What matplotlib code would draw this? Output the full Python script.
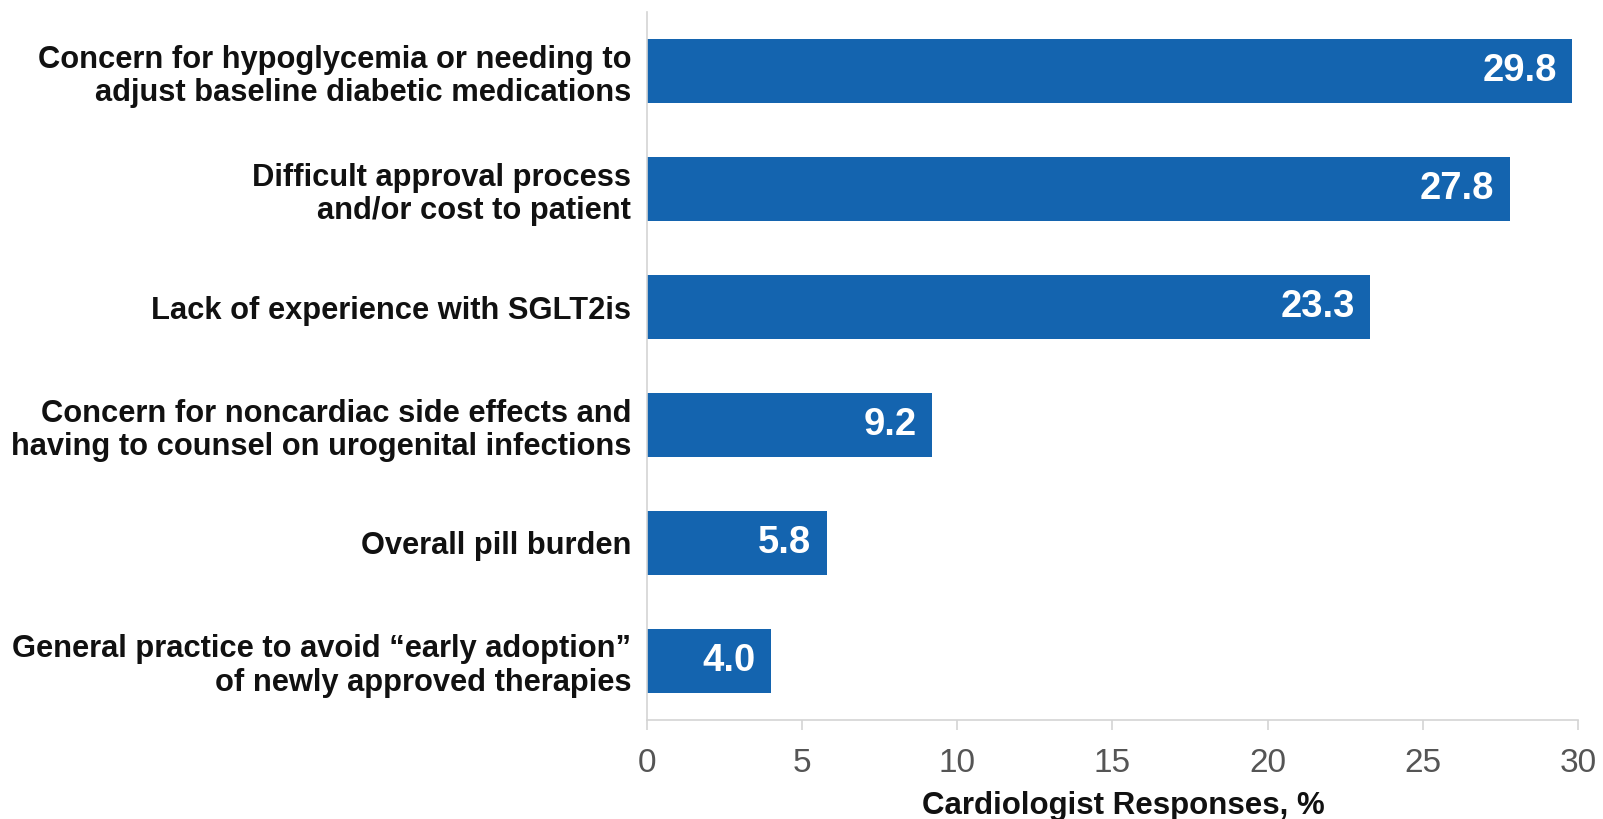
import matplotlib
matplotlib.use("Agg")
import matplotlib.pyplot as plt

categories = [
    "Concern for hypoglycemia or needing to\nadjust baseline diabetic medications",
    "Difficult approval process\nand/or cost to patient",
    "Lack of experience with SGLT2is",
    "Concern for noncardiac side effects and\nhaving to counsel on urogenital infections",
    "Overall pill burden",
    "General practice to avoid \u201cearly adoption\u201d\nof newly approved therapies",
]
values = [29.8, 27.8, 23.3, 9.2, 5.8, 4.0]
x_ticks = [0, 5, 10, 15, 20, 25, 30]
x_label = "Cardiologist Responses, %"

bar_color = "#1464AF"
grid_color = "#d4d4d4"

plt.rcParams["font.family"] = ["Liberation Sans", "DejaVu Sans"]

fig = plt.figure(figsize=(16.03, 8.19), dpi=100)
ax = fig.add_axes([0.4034, 0.1209, 0.9844 - 0.4034, 0.9853 - 0.1209])

ypos = list(range(len(categories)))
ax.barh(ypos, values, height=0.55, color=bar_color, zorder=2)

for y, v in zip(ypos, values):
    ax.annotate(f"{v:.1f}", xy=(v, y), xytext=(-11, 0), textcoords="offset points",
                ha="right", va="center", color="white", fontsize=27.5, fontweight="bold")

ax.set_xlim(0, 30)
ax.set_ylim(5.5, -0.5)
ax.set_yticks(ypos)
ax.set_yticklabels(categories, fontsize=22.2, fontweight="bold", color="#111111",
                   linespacing=1.15)
ax.tick_params(axis="y", length=0, pad=11)
ax.set_xticks(x_ticks)
ax.set_xticklabels([str(t) for t in x_ticks], fontsize=24, color="#555555")
ax.tick_params(axis="x", length=7, width=1.2, color=grid_color, pad=13)

for side in ("top", "right"):
    ax.spines[side].set_visible(False)
for side in ("left", "bottom"):
    ax.spines[side].set_color(grid_color)
    ax.spines[side].set_linewidth(1.2)

ax.set_xlabel(x_label, fontsize=22.5, fontweight="bold", color="#111111")
ax.xaxis.set_label_coords(0.512, -0.121)
ax.xaxis.label.set_va("center")

fig.savefig("out.png", dpi=100, facecolor="white")
